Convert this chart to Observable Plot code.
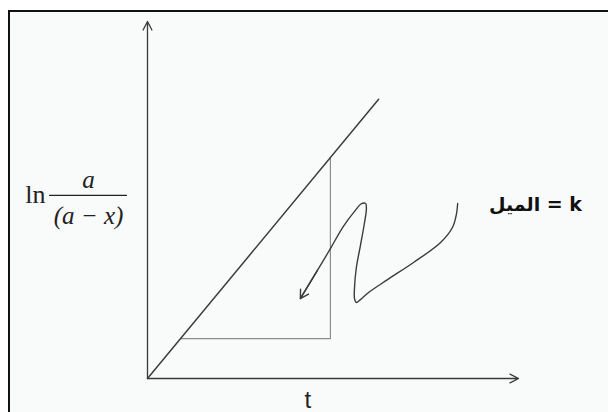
<!DOCTYPE html>
<html>
<head>
<meta charset="utf-8">
<script src="https://cdn.jsdelivr.net/npm/d3@7"></script>
<script src="https://cdn.jsdelivr.net/npm/@observablehq/plot@0.6"></script>
<style>
  html, body { margin: 0; padding: 0; background: #ffffff; width: 608px; height: 412px; overflow: hidden; }
  #sheet {
    position: absolute; left: 8px; top: 10px; width: 640px; height: 440px;
    border-top: 2.5px solid #111; border-left: 2.5px solid #111;
    background: #f9fafa;
  }
  #chart { position: absolute; left: 0; top: 0; }
</style>
</head>
<body>
<div id="sheet"></div>
<div id="chart"></div>
<script>
// First-order kinetics: ln(a/(a-x)) against t is a straight line of slope k.
const axisMax = [10, 10];            // arrow tips of the t and ln axes
const lineT = [0, 6.23];             // straight line, t values
const lineY = [0, 7.82];             // straight line, ln(a/(a-x)) values
const legT = [0.89, 4.93];           // slope triangle: run from t0 to t1
// hand-drawn pointer from the slope label into the triangle
const pointerT = [8.36, 8.33, 8.22, 7.90, 7.17, 6.47, 5.96, 5.74, 5.63, 5.58, 5.58, 5.63, 5.74, 5.85, 5.90, 5.88, 5.77, 5.58, 5.28, 4.93, 4.58, 4.12];
const pointerY = [4.90, 4.62, 4.23, 3.81, 3.25, 2.77, 2.41, 2.21, 2.13, 2.24, 2.55, 3.11, 3.73, 4.37, 4.76, 4.90, 4.90, 4.68, 4.26, 3.64, 3.03, 2.24];
const slopeLabel = "الميل = k";
const xLabel = "t";

const k = lineY[1] / lineT[1];
const axes = [
  {x1: 0, y1: 0, x2: axisMax[0], y2: 0},
  {x1: 0, y1: 0, x2: 0, y2: axisMax[1]}
];
const line = lineT.map((t, i) => ({t, y: lineY[i]}));
const triangle = [
  {t: legT[0], y: k * legT[0]},
  {t: legT[1], y: k * legT[0]},
  {t: legT[1], y: k * legT[1]}
];
const pointer = pointerT.map((t, i) => ({t, y: pointerY[i]}));
const n = pointer.length;
const head = [{x1: pointer[n - 2].t, y1: pointer[n - 2].y, x2: pointer[n - 1].t, y2: pointer[n - 1].y}];

const serif = "'Liberation Serif', 'Times New Roman', serif";

const chart = Plot.plot({
  width: 608,
  height: 412,
  marginLeft: 147,
  marginRight: 90,
  marginTop: 21,
  marginBottom: 34,
  x: {domain: [0, axisMax[0]], axis: null},
  y: {domain: [0, axisMax[1]], axis: null},
  style: {background: "transparent", overflow: "visible"},
  marks: [
    Plot.arrow(axes, {x1: "x1", y1: "y1", x2: "x2", y2: "y2", stroke: "#3a3a3a", strokeWidth: 1.3, headLength: 11, headAngle: 55}),
    Plot.line(triangle, {x: "t", y: "y", stroke: "#8c8c8c", strokeWidth: 1.2}),
    Plot.line(line, {x: "t", y: "y", stroke: "#3c3c3c", strokeWidth: 1.5}),
    Plot.line(pointer, {x: "t", y: "y", curve: "catmull-rom", stroke: "#3c3c3c", strokeWidth: 1.4}),
    Plot.arrow(head, {x1: "x1", y1: "y1", x2: "x2", y2: "y2", stroke: "#3c3c3c", strokeWidth: 1.4, headLength: 10, headAngle: 60}),
    // slope label
    Plot.text([slopeLabel], {x: 10.46, y: 4.85, text: d => d, fontSize: 19, fontWeight: "bold", fill: "#111", fontFamily: "'DejaVu Sans', 'Liberation Sans', sans-serif"}),
    // t axis label
    Plot.text([xLabel], {x: 4.32, y: -0.62, text: d => d, fontSize: 24, fill: "#222", fontFamily: "'Liberation Sans', Arial, sans-serif"}),
    // ln a/(a-x) axis label
    Plot.text(["ln"], {x: -3.02, y: 5.16, text: d => d, fontSize: 26, fill: "#222", fontFamily: serif}),
    Plot.text(["a"], {x: -1.59, y: 5.56, text: d => d, fontSize: 25, fontStyle: "italic", fill: "#222", fontFamily: serif}),
    Plot.ruleY([5.13], {x1: -2.64, x2: -0.54, stroke: "#222", strokeWidth: 1.2}),
    Plot.text(["(a − x)"], {x: -1.59, y: 4.55, text: d => d, fontSize: 25, fontStyle: "italic", fill: "#222", fontFamily: serif})
  ]
});
document.getElementById("chart").appendChild(chart);
</script>
</body>
</html>
